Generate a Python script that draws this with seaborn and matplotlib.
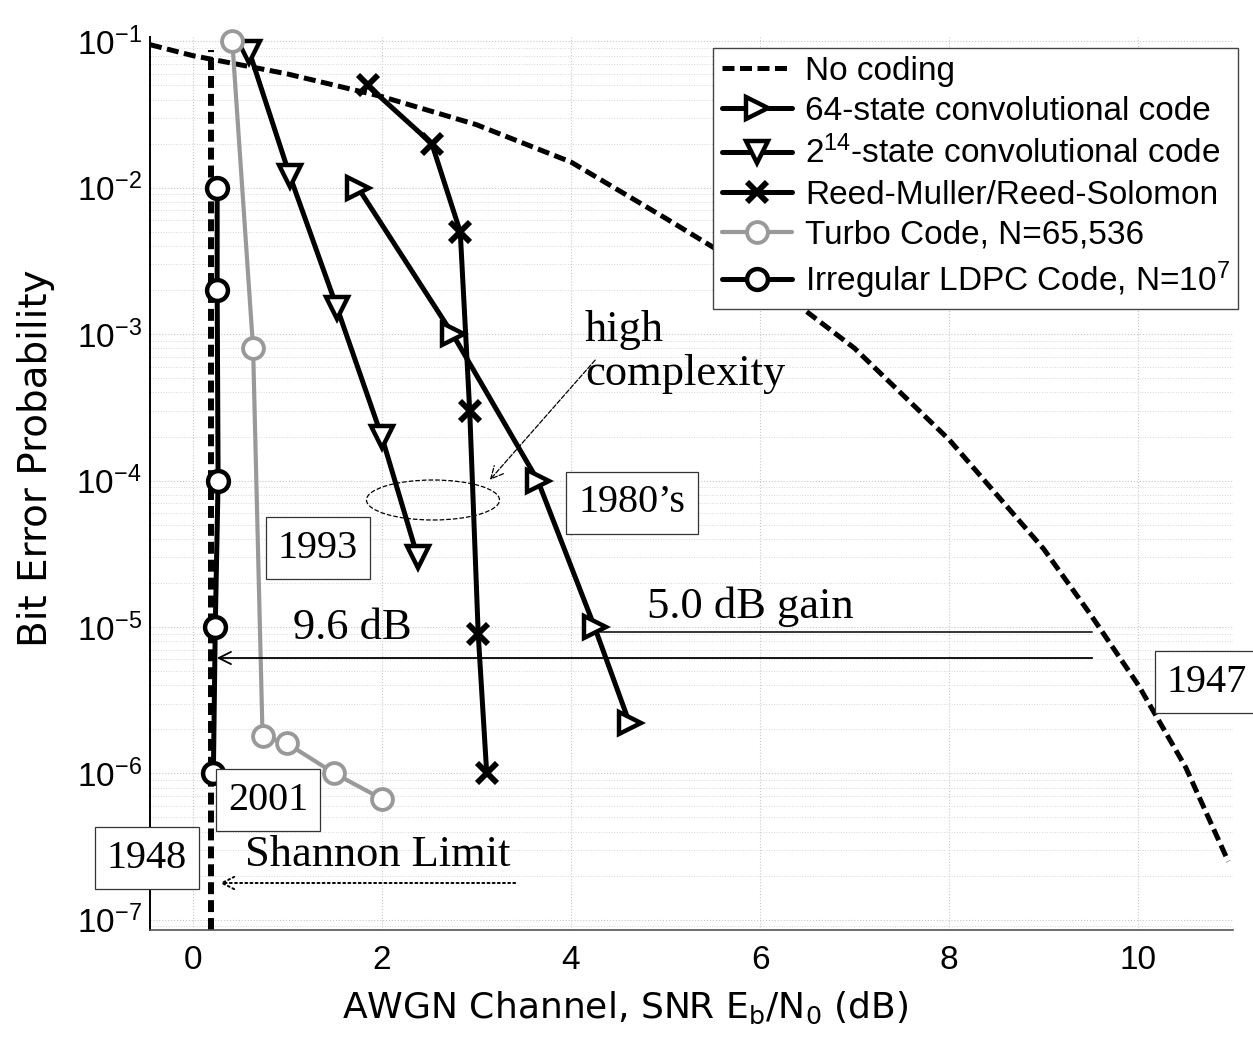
import numpy as np
import pandas as pd
import matplotlib
matplotlib.use("Agg")
import matplotlib.pyplot as plt
import matplotlib.patches as mpatches
import seaborn as sns

# ── Data ──────────────────────────────────────────────────────────────
NOCODE_SNR = [-0.45, 0, 1, 2, 3, 4, 5, 6, 7, 8, 9, 9.5, 10, 10.5, 10.95]
NOCODE_BER = [0.095, 0.08, 0.06, 0.042, 0.027, 0.015, 0.0062, 0.0025,
              8e-4, 1.9e-4, 3.4e-5, 1.2e-5, 4e-6, 1.1e-6, 2.5e-7]

CONV64_SNR = [1.75, 2.75, 3.65, 4.25, 4.62]
CONV64_BER = [1e-2, 1e-3, 1e-4, 1e-5, 2.2e-6]

CONV214_SNR = [0.6, 1.03, 1.53, 2.0, 2.38]
CONV214_BER = [0.085, 0.012, 1.5e-3, 2e-4, 3e-5]

RS_SNR = [1.85, 2.53, 2.83, 2.93, 3.02, 3.11]
RS_BER = [0.05, 0.02, 5e-3, 3e-4, 9e-6, 1e-6]

TURBO_SNR = [0.42, 0.64, 0.74, 1.0, 1.5, 2.0]
TURBO_BER = [0.1, 8e-4, 1.8e-6, 1.6e-6, 1e-6, 6.7e-7]

LDPC_SNR = [0.26, 0.26, 0.27, 0.24, 0.22]
LDPC_BER = [1e-2, 2e-3, 1e-4, 1e-5, 1e-6]

SHANNON_DB = 0.19

X_TICKS = [0, 2, 4, 6, 8, 10]
Y_TICKS = [1e-7, 1e-6, 1e-5, 1e-4, 1e-3, 1e-2, 1e-1]

# ── Style ─────────────────────────────────────────────────────────────
sns.set_theme(style="white")
plt.rcParams.update({
    "font.family": ["Liberation Sans", "DejaVu Sans"],
    "mathtext.default": "regular",
    "axes.unicode_minus": False,
    "text.color": "black",
    "axes.labelcolor": "black",
    "xtick.color": "black",
    "ytick.color": "black",
    "axes.spines.top": False,
    "axes.spines.right": False,
})

W, H = 1253, 1047
SERIF = "Liberation Serif"


def fp(x, y):
    # reference pixel -> figure fraction
    return (x / W, 1 - y / H)


fig = plt.figure(figsize=(W / 100, H / 100), dpi=100)
ax = fig.add_axes([150 / W, 1 - 930 / H, 1083 / W, 893 / H])
ax.set_yscale("log")

common = dict(ax=ax, estimator=None, sort=False, clip_on=False)

sns.lineplot(x=NOCODE_SNR, y=NOCODE_BER, color="black", linewidth=3.6,
             linestyle=(0, (2.4, 1.1)), label="No coding", **common)
sns.lineplot(x=CONV64_SNR, y=CONV64_BER, color="black", linewidth=3.6,
             marker=">", markersize=16, markerfacecolor="white",
             markeredgecolor="black", markeredgewidth=3.2,
             label="64-state convolutional code", **common)
sns.lineplot(x=CONV214_SNR, y=CONV214_BER, color="black", linewidth=3.6,
             marker="v", markersize=16, markerfacecolor="white",
             markeredgecolor="black", markeredgewidth=3.2,
             label="2$^{14}$-state convolutional code", **common)
sns.lineplot(x=RS_SNR, y=RS_BER, color="black", linewidth=3.6,
             marker="x", markersize=14, markeredgecolor="black",
             markeredgewidth=4.2, label="Reed-Muller/Reed-Solomon", **common)
sns.lineplot(x=TURBO_SNR, y=TURBO_BER, color="#999999", linewidth=3.0,
             marker="o", markersize=15, markerfacecolor="white",
             markeredgecolor="#999999", markeredgewidth=2.8,
             label="Turbo Code, N=65,536", **common)
sns.lineplot(x=LDPC_SNR, y=LDPC_BER, color="black", linewidth=3.6,
             marker="o", markersize=15, markerfacecolor="white",
             markeredgecolor="black", markeredgewidth=3.2,
             label="Irregular LDPC Code, N=10$^7$", **common)

# Shannon limit
ax.axvline(SHANNON_DB, ymax=0.985, color="black", linewidth=4.3,
           linestyle=(0, (2.0, 1.0)), zorder=1)

ax.set_xlim(-0.45, 11.0)
ax.set_ylim(10 ** -7.07, 10 ** -0.97)
ax.set_xticks(X_TICKS)
ax.set_yticks(Y_TICKS)
ax.tick_params(axis="both", which="both", direction="in", labelsize=24)
ax.tick_params(axis="x", pad=11)
ax.tick_params(axis="y", pad=6)
ax.tick_params(which="major", length=6, width=1)
ax.tick_params(which="minor", length=3, width=0.8)
ax.grid(True, which="major", axis="both", color="#c8c8c8", linestyle=":", linewidth=0.8)
ax.grid(True, which="minor", axis="y", color="#d8d8d8", linestyle=":", linewidth=0.7)
ax.spines["left"].set_color("black")
ax.spines["left"].set_linewidth(1.4)
ax.spines["bottom"].set_color("#555555")
ax.spines["bottom"].set_linewidth(1.2)
ax.set_xlabel("")
ax.set_ylabel("")

fig.text(*fp(36, 458), "Bit Error Probability", rotation=90, ha="center",
         va="center", fontsize=28, family="DejaVu Sans")
fig.text(*fp(625, 1008), "AWGN Channel, SNR E$_b$/N$_0$ (dB)", ha="center",
         va="center", fontsize=26, family="DejaVu Sans")

leg = ax.legend(loc="upper right", bbox_to_anchor=(1.005, 0.988),
                borderaxespad=0, fontsize=24, numpoints=1, handlelength=2.1,
                labelspacing=0.27, borderpad=0.25, handletextpad=0.4,
                fancybox=False, framealpha=1, edgecolor="#444444")
leg.get_frame().set_linewidth(1.0)

# ── Annotations ───────────────────────────────────────────────────────
box = dict(boxstyle="square,pad=0.3", fc="white", ec="#333333", lw=0.9)

fig.text(*fp(585, 352), "high\ncomplexity", ha="left", va="center",
         fontsize=32, family=SERIF, linespacing=1.1)
ax.annotate("", xy=fp(488, 482), xytext=fp(597, 358), xycoords="figure fraction",
            textcoords="figure fraction",
            arrowprops=dict(arrowstyle="->", linestyle="--", lw=0.9, color="black",
                            mutation_scale=22))
fig.add_artist(mpatches.Ellipse(fp(433, 500), 133 / W, 40 / H,
                                transform=fig.transFigure, fill=False,
                                linestyle="--", linewidth=0.9, edgecolor="black"))

for txt, px, py in [("1980’s", 632, 503), ("1993", 318, 548), ("2001", 268, 800),
                    ("1948", 147, 858), ("1947", 1207, 682)]:
    fig.text(*fp(px, py), txt, ha="center", va="center", fontsize=29,
             family=SERIF, bbox=box)

fig.text(*fp(352, 628), "9.6 dB", ha="center", va="center", fontsize=32, family=SERIF)
fig.text(*fp(750, 607), "5.0 dB gain", ha="center", va="center", fontsize=32, family=SERIF)
fig.text(*fp(378, 855), "Shannon Limit", ha="center", va="center", fontsize=32, family=SERIF)

ax.annotate("", xy=fp(214, 658), xytext=fp(1095, 658), xycoords="figure fraction",
            textcoords="figure fraction",
            arrowprops=dict(arrowstyle="->", lw=1.3, color="black", mutation_scale=22))
ax.annotate("", xy=fp(598, 632), xytext=fp(1095, 632), xycoords="figure fraction",
            textcoords="figure fraction",
            arrowprops=dict(arrowstyle="-", lw=1.1, color="black"))
ax.annotate("", xy=fp(217, 883), xytext=fp(518, 883), xycoords="figure fraction",
            textcoords="figure fraction",
            arrowprops=dict(arrowstyle="->", linestyle=":", lw=1.4, color="black",
                            mutation_scale=22))

fig.savefig("out.png", dpi=100)
